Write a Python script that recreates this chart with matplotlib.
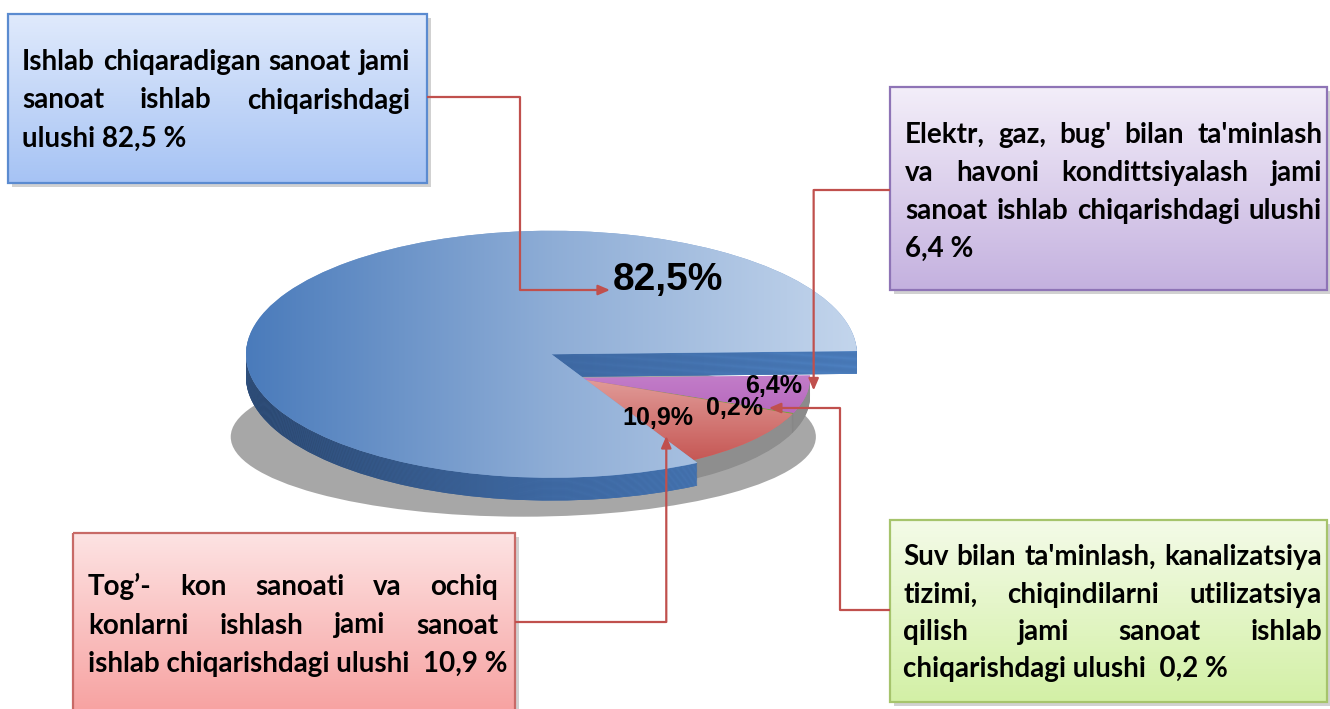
import numpy as np
import matplotlib.pyplot as plt
from matplotlib.patches import Rectangle, Ellipse
from matplotlib.colors import LinearSegmentedColormap

# shares of total industrial output, %
shares = [82.5, 6.4, 0.2, 10.9]
share_labels = ["82,5%", "6,4%", "0,2%", "10,9%"]
slice_tops = ["#7fa3d3", "#bc74c1", "#79a53b", "#d5726e"]
slice_sides = ["#3a639b", "#8b8b8b", "#868686", "#8e8e8e"]

blue_text = ["Ishlab chiqaradigan sanoat jami", "sanoat ishlab chiqarishdagi", "ulushi 82,5 %"]
purple_text = ["Elektr, gaz, bug'  bilan ta'minlash", "va havoni kondittsiyalash jami",
               "sanoat ishlab chiqarishdagi ulushi", "6,4 %"]
red_text = ["Tog’- kon sanoati va ochiq", "konlarni ishlash jami sanoat",
            "ishlab chiqarishdagi ulushi  10,9 %"]
green_text = ["Suv bilan ta'minlash, kanalizatsiya", "tizimi, chiqindilarni utilizatsiya",
              "qilish jami sanoat ishlab", "chiqarishdagi ulushi  0,2 %"]

W, H = 1330, 709
CX, CY, RX, RY = 575, 378, 235, 95     # centre / radii of the small slices, px
DEPTH = 0.2                            # pie thickness in y-radii
BLUE_R, BLUE_C, BLUE_D = 1.3, (-0.10, 0.25), 0.24
START = 1.5 + shares[0] * 3.6          # leaves the small slices on the right
RED = "#c0504d"
BOX_FONT = ["Lato", "DejaVu Sans"]
PIE_FONT = ["Liberation Sans Narrow", "Liberation Sans", "DejaVu Sans"]
FS = 20

fig = plt.figure(figsize=(13.3, 7.09), dpi=100)
pax = fig.add_axes([0, 0, 1, 1])
pax.axis("off")


def to_px(u, v):
    return CX + u * RX, CY - v * RY


def pie_layer(radius, center, colors, keep, z):
    wedges, _ = pax.pie(shares, radius=radius, center=center, colors=colors,
                        startangle=START, counterclock=False,
                        wedgeprops=dict(linewidth=0))
    for i, w in enumerate(wedges):
        w.set_visible(i in keep)
        w.set_zorder(z)
    return wedges


def fill_grad(axis, clip, colors, extent, vertical, z):
    cmap = LinearSegmentedColormap.from_list("g", colors)
    arr = np.linspace(0, 1, 256)
    arr = arr[:, None] if vertical else arr[None, :]
    im = axis.imshow(arr, cmap=cmap, extent=extent, origin="upper",
                     aspect="auto", zorder=z, interpolation="bilinear")
    if clip is not None:
        im.set_clip_path(clip)
    return im


# shadow under the pie
pax.add_patch(Ellipse((-0.22, -0.62), 2.49, 1.68, fc="#a7a7a7", lw=0, zorder=1))

n = 20
for k in range(n, 0, -1):
    pie_layer(1.0, (0, -DEPTH * k / n), slice_sides, {1, 2, 3}, 2)
tops = pie_layer(1.0, (0, 0), slice_tops, {1, 2, 3}, 3)
fill_grad(pax, tops[3], ["#e4a4a1", "#c24d4a"], (-1, 1, -1, 0.1), True, 3.5)
fill_grad(pax, tops[1], ["#c98bd0", "#b462ba"], (-0.2, 1.05, -0.5, 0.3), True, 3.5)

bx, by = BLUE_C
for k in range(n, 0, -1):
    ws = pie_layer(BLUE_R, (bx, by - BLUE_D * k / n), slice_sides, {0}, 4)
    fill_grad(pax, ws[0], ["#2a456b", "#3f6aa4", "#4d80c0"],
              (bx - BLUE_R, bx + BLUE_R, -2, 2), False, 4)
ws = pie_layer(BLUE_R, (bx, by), slice_tops, {0}, 5)
fill_grad(pax, ws[0], ["#4a7bbb", "#8eadd6", "#c3d5ec"],
          (bx - BLUE_R, bx + BLUE_R, -2, 2), False, 5.5)

pax.set_aspect("auto")
pax.set_xlim(-CX / RX, (W - CX) / RX)
pax.set_ylim((CY - H) / RY, CY / RY)

# overlay in pixel coordinates
ax = fig.add_axes([0, 0, 1, 1])
ax.axis("off")
renderer = fig.canvas.get_renderer()

# slice labels: angle offset (deg) from the slice middle and radius
edges = START - 3.6 * np.concatenate([[0], np.cumsum(shares)])
mids = (edges[:-1] + edges[1:]) / 2
label_spots = {1: (mids[1] + 4, 0.85), 2: (mids[2] - 3, 0.75), 3: (mids[3] - 8, 0.55)}
label_px = {}
for i, (ang, r) in label_spots.items():
    t = np.radians(ang)
    label_px[i] = to_px(r * np.cos(t), r * np.sin(t))
    ax.text(*label_px[i], share_labels[i], family=PIE_FONT, fontsize=18,
            fontweight="bold", ha="center", va="center", zorder=10)
big_xy = (668, 280)
ax.text(*big_xy, share_labels[0], family=PIE_FONT, fontsize=28,
        fontweight="bold", ha="center", va="center", zorder=10)


def put_lines(lines, x0, x1, y0, step, last_justified=False):
    for j, line in enumerate(lines):
        y = y0 + j * step
        just = j < len(lines) - 1 or last_justified
        words = line.split()
        if not just or len(words) < 2:
            ax.text(x0, y, line, family=BOX_FONT, fontsize=FS, fontweight="bold",
                    va="baseline", ha="left", zorder=10)
            continue
        texts = [ax.text(0, y, w, family=BOX_FONT, fontsize=FS, fontweight="bold",
                         va="baseline", ha="left", zorder=10) for w in words]
        widths = [t.get_window_extent(renderer).width for t in texts]
        gap = (x1 - x0 - sum(widths)) / (len(words) - 1)
        x = x0
        for t, w in zip(texts, widths):
            t.set_x(x)
            x += w + gap


def box(x0, y0, x1, y1, c_top, c_bot, edge):
    ax.add_patch(Rectangle((x0 + 4, y0 + 4), x1 - x0, y1 - y0, fc="black",
                           alpha=0.18, lw=0, zorder=6))
    fill_grad(ax, None, [c_top, c_bot], (x0, x1, y1, y0), True, 7)
    ax.add_patch(Rectangle((x0, y0), x1 - x0, y1 - y0, fc="none", ec=edge,
                           lw=1.6, zorder=8))


box(8, 14, 427, 183, "#e0eafc", "#a6c3f4", "#5b8bd0")
put_lines(blue_text, 22, 410, 70, 38.5)
box(890, 87, 1327, 290, "#f3eef9", "#c4b1df", "#8e74b6")
put_lines(purple_text, 905, 1322, 143, 38)
box(73, 533, 515, 712, "#fde3e3", "#f7a2a1", "#c86a67")
put_lines(red_text, 88, 498, 595, 38.5)
box(890, 520, 1327, 702, "#f4fbe8", "#d3f0a6", "#a6c46c")
put_lines(green_text, 903, 1322, 565, 37.5)


def connector(points):
    xs, ys = zip(*points[:-1])
    ax.plot(xs, ys, color=RED, lw=1.6, zorder=9, solid_capstyle="butt")
    ax.annotate("", xy=points[-1], xytext=points[-2],
                arrowprops=dict(arrowstyle="-|>,head_length=0.7,head_width=0.3",
                                color=RED, lw=1.6, shrinkA=0, shrinkB=0), zorder=9)


lx, ly = label_px[1]
connector([(427, 97), (520, 97), (520, 290), (big_xy[0] - 58, 290)])
connector([(890, 190), (lx + 40, 190), (lx + 40, ly + 4)])
gx, gy = label_px[2]
connector([(890, 610), (840, 610), (840, gy), (gx + 34, gy)])
rx_, ry_ = label_px[3]
connector([(515, 622), (rx_ + 8, 622), (rx_ + 8, ry_ + 18)])

ax.set_xlim(0, W)
ax.set_ylim(H, 0)
ax.set_aspect("auto")

fig.savefig("out.png", dpi=100, facecolor="white")
